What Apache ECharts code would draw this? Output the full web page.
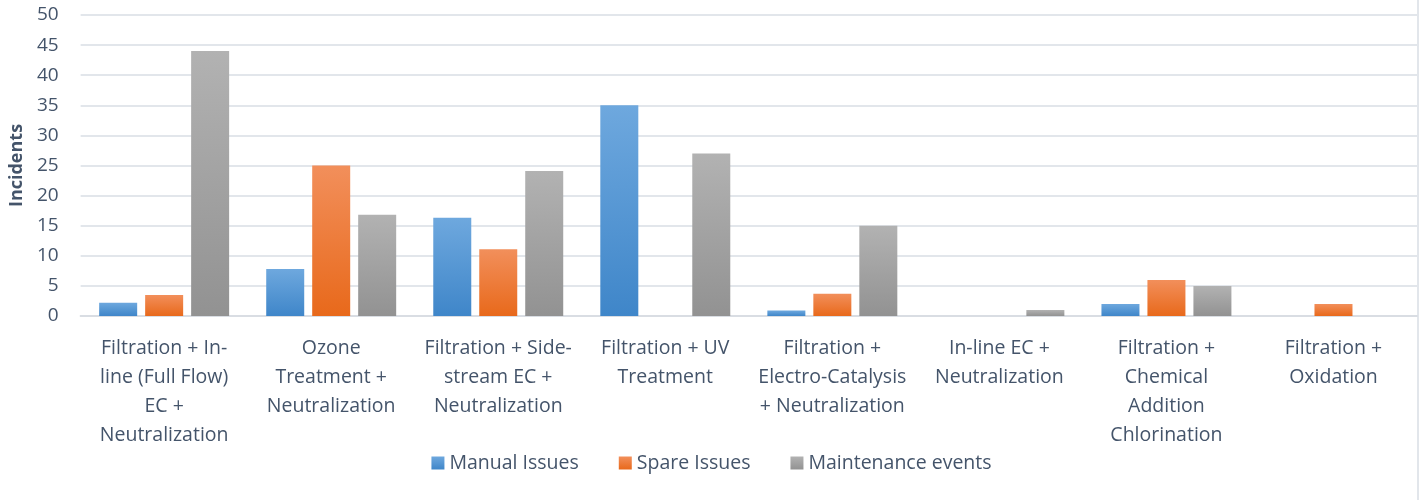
<!DOCTYPE html>
<html>
<head>
<meta charset="utf-8">
<script src="https://cdn.jsdelivr.net/npm/echarts@6/dist/echarts.min.js"></script>
<style>
  html, body { margin: 0; padding: 0; background: #fff; }
  #chart { width: 1423px; height: 500px; }
</style>
</head>
<body>
<div id="chart"></div>
<script>
// categories (wrapped as in the original axis)
const categories = [
  'Filtration + In-\nline (Full Flow)\nEC +\nNeutralization',
  'Ozone\nTreatment +\nNeutralization',
  'Filtration + Side-\nstream EC +\nNeutralization',
  'Filtration + UV\nTreatment',
  'Filtration +\nElectro-Catalysis\n+ Neutralization',
  'In-line EC +\nNeutralization',
  'Filtration +\nChemical\nAddition\nChlorination',
  'Filtration +\nOxidation'
]
const manualIssues = [2.2, 7.8, 16.3, 35, 0.9, 0, 2, 0]
const spareIssues = [3.5, 25, 11.1, 0, 3.7, 0, 6, 2]
const maintenanceEvents = [44, 16.8, 24.1, 27, 15, 1, 5, 0]

const textColor = '#44546a'
const font = 'Open Sans'

function grad(top, bottom) {
  return new echarts.graphic.LinearGradient(0, 0, 0, 1, [
    { offset: 0, color: top },
    { offset: 1, color: bottom }
  ])
}

const chart = echarts.init(document.getElementById('chart'))
chart.setOption({
  animation: false,
  grid: { left: 80, right: 6, top: 15, bottom: 184 },
  legend: {
    bottom: 22,
    left: 'center',
    itemWidth: 13,
    itemHeight: 13,
    itemGap: 40,
    icon: 'rect',
    textStyle: { color: textColor, fontSize: 19.5, fontFamily: font },
    data: ['Manual Issues', 'Spare Issues', 'Maintenance events']
  },
  xAxis: {
    type: 'category',
    data: categories,
    axisTick: { show: false },
    axisLine: { lineStyle: { color: '#d9dde3', width: 2 } },
    axisLabel: {
      color: textColor, fontSize: 19.5, fontFamily: font,
      lineHeight: 29, margin: 18, interval: 0
    }
  },
  yAxis: {
    type: 'value',
    min: 0, max: 50, interval: 5,
    name: 'Incidents',
    nameLocation: 'middle',
    nameGap: 54,
    nameTextStyle: { color: textColor, fontSize: 18, fontWeight: 'bold', fontFamily: font },
    axisLine: { show: false },
    axisTick: { show: false },
    axisLabel: { color: textColor, fontSize: 19, fontFamily: font, margin: 22 },
    splitLine: { lineStyle: { color: '#e2e6eb', width: 2 } }
  },
  graphic: [{
    type: 'line',
    shape: { x1: 1418, y1: 0, x2: 1418, y2: 500 },
    style: { stroke: '#e2e6eb', lineWidth: 2 }
  }],
  series: [
    {
      name: 'Manual Issues', type: 'bar', data: manualIssues,
      barWidth: 38, barGap: '21%',
      itemStyle: { color: grad('#6ea8de', '#3f86c9') }
    },
    {
      name: 'Spare Issues', type: 'bar', data: spareIssues,
      barWidth: 38,
      itemStyle: { color: grad('#f28f5b', '#e8691b') }
    },
    {
      name: 'Maintenance events', type: 'bar', data: maintenanceEvents,
      barWidth: 38,
      itemStyle: { color: grad('#b2b2b2', '#929292') }
    }
  ]
})
</script>
</body>
</html>
